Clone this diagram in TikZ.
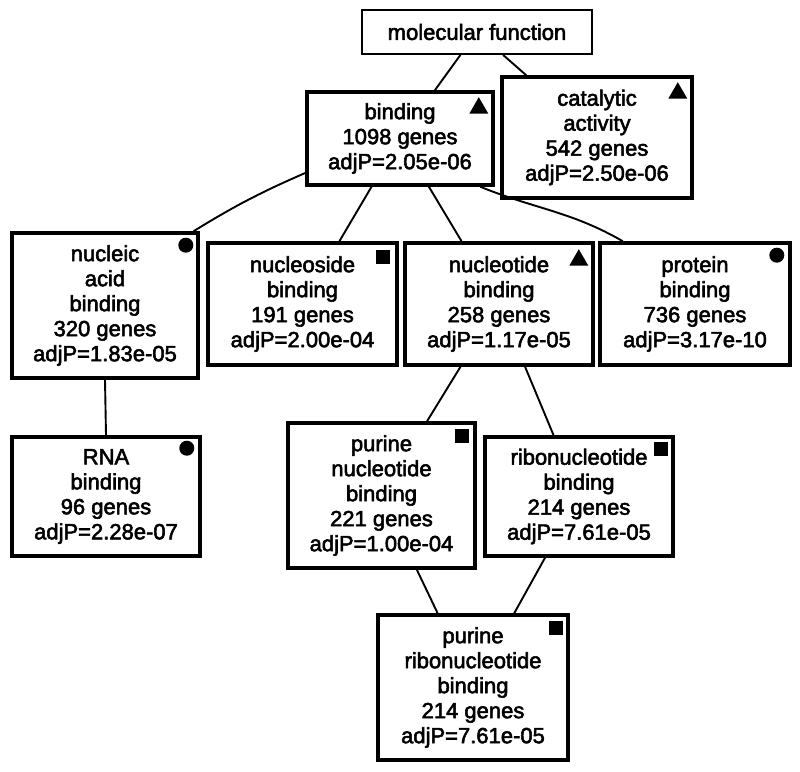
\documentclass[tikz,border=0pt]{standalone}
\usepackage{fontspec}
\setmainfont{Liberation Sans}[UprightFeatures={FakeBold=2.5}]
\usetikzlibrary{shapes.geometric}

\begin{document}
\begin{tikzpicture}[x=1pt,y=1pt,
        term/.style={draw,line width=3.6pt,align=center,inner sep=0pt,
            font=\fontsize{22}{25}\selectfont},
        link/.style={line width=1.9pt},
        mtri/.style={regular polygon,regular polygon sides=3,fill,inner sep=0pt,minimum size=22pt},
        mdot/.style={circle,fill,inner sep=0pt,minimum size=15pt},
        msq/.style={rectangle,fill,inner sep=0pt,minimum size=14pt}]
            \useasboundingbox[fill=white](0,0) rectangle (800,-771);
            \node[term,line width=1.8pt,minimum width=230pt,minimum height=44pt](mf) at(477,-32){molecular function};
            \node[term,minimum width=186pt,minimum height=93pt](bind) at(400,-138.5){binding\\1098 genes\\adjP=2.05e-06};
            \node[term,minimum width=190pt,minimum height=121pt](cat) at(597,-137.5){catalytic\\activity\\542 genes\\adjP=2.50e-06};
            \node[term,minimum width=186pt,minimum height=145pt](nucacid) at(105,-305.5){nucleic\\acid\\binding\\320 genes\\adjP=1.83e-05};
            \node[term,minimum width=189pt,minimum height=122pt](nucside) at(302.5,-304){nucleoside\\binding\\191 genes\\adjP=2.00e-04};
            \node[term,minimum width=188pt,minimum height=122pt](nuctide) at(499,-304){nucleotide\\binding\\258 genes\\adjP=1.17e-05};
            \node[term,minimum width=190pt,minimum height=122pt](prot) at(695,-304){protein\\binding\\736 genes\\adjP=3.17e-10};
            \node[term,minimum width=188pt,minimum height=119pt](rna) at(106,-496.5){RNA\\binding\\96 genes\\adjP=2.28e-07};
            \node[term,minimum width=187pt,minimum height=145pt](purnuc) at(381.5,-495.5){purine\\nucleotide\\binding\\221 genes\\adjP=1.00e-04};
            \node[term,minimum width=188pt,minimum height=119pt](ribo) at(579,-496.5){ribonucleotide\\binding\\214 genes\\adjP=7.61e-05};
            \node[term,minimum width=190pt,minimum height=145pt](purribo) at(473,-687.5){purine\\ribonucleotide\\binding\\214 genes\\adjP=7.61e-05};

            \node[mtri](bindmk) at([shift={(-16,-18)}]bind.north east){};
            \node[mtri](catmk) at([shift={(-16,-18)}]cat.north east){};
            \node[mtri](nuctidemk) at([shift={(-16,-19)}]nuctide.north east){};
            \node[mdot](nucacidmk) at([shift={(-14,-14)}]nucacid.north east){};
            \node[mdot](protmk) at([shift={(-15,-14)}]prot.north east){};
            \node[mdot](rnamk) at([shift={(-15,-13)}]rna.north east){};
            \node[msq](nucsidemk) at([shift={(-16,-16)}]nucside.north east){};
            \node[msq](purnucmk) at([shift={(-14.5,-15)}]purnuc.north east){};
            \node[msq](ribomk) at([shift={(-14,-14)}]ribo.north east){};
            \node[msq](purribomk) at([shift={(-14,-15)}]purribo.north east){};

            \draw[link](mf)--(bind);
            \draw[link](mf)--(cat);
            \draw[link](bind.200) to [bend right = 4](nucacid.40);
            \draw[link](bind)--(nucside);
            \draw[link](bind)--(nuctide);
            \draw[link](bind.-31) to [out=-22,in=150](prot.139);
            \draw[link](nucacid.south)--(rna.north);
            \draw[link](nuctide)--(purnuc);
            \draw[link](nuctide)--(ribo);
            \draw[link](purnuc)--(purribo);
            \draw[link](ribo)--(purribo);
        \end{tikzpicture}
\end{document}
